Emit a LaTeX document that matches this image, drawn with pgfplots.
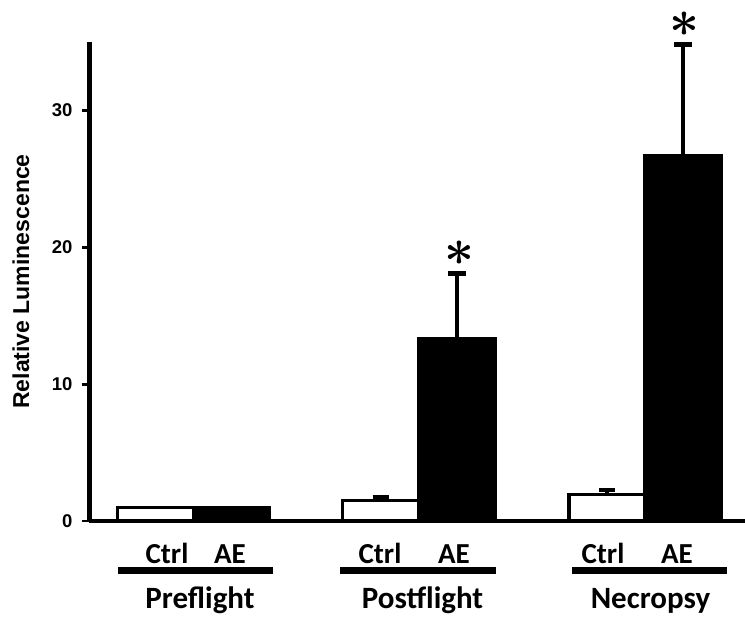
\RequirePackage{fix-cm}
\documentclass[border=0pt]{standalone}
\usepackage{pgfplots}
\pgfplotsset{compat=1.18}
\usepackage{fontspec}
\setmainfont{Liberation Sans}
\newfontfamily\calib{Carlito}
\DeclareRobustCommand\sigstar{{\fontsize{52}{52}\selectfont\boldmath$\ast$}}
\begin{document}
\begin{tikzpicture}
\useasboundingbox (-89.5pt,-98pt) rectangle (655.5pt,521pt);
\begin{axis}[
  scale only axis,
  width=655.5pt, height=479pt,
  xmin=89.5, xmax=745, ymin=0, ymax=35,
  enlargelimits=false,
  clip=false,
  axis x line*=bottom, axis y line*=left,
  axis line style={line width=4.5pt, -},
  ytick={0,10,20,30},
  ytick align=outside,
  major tick length=7.5pt,
  ytick style={line width=2.8pt, black},
  xtick={167,230,380,454,603,677},
  xticklabels={Ctrl,AE,Ctrl,AE,Ctrl,AE},
  xtick style={draw=none},
  /pgf/number format/assume math mode=true,
  yticklabel style={font=\bfseries\fontsize{18.5}{20}\selectfont, xshift=-6pt},
  xticklabel style={font=\calib\bfseries\fontsize{29}{30}\selectfont, anchor=base, yshift=-42pt},
  extra x ticks={200,422.5,650.5},
  extra x tick labels={Preflight,Postflight,Necropsy},
  extra x tick style={xticklabel style={font=\calib\bfseries\fontsize{31}{32}\selectfont, yshift=-45pt}},
  ylabel={Relative Luminescence},
  ylabel style={font=\bfseries\fontsize{23}{26}\selectfont, at={(axis description cs:-0.1045,0.5)}, anchor=center},
]
% Preflight (no visible error bars)
\addplot[ybar, bar shift=0pt, bar width=76, fill=white, draw=black, line width=3.5pt]
  coordinates {(155.5,1.0)};
\addplot[ybar, bar shift=0pt, bar width=76, fill=black, draw=black, line width=3.5pt]
  coordinates {(231.5,1.0)};
% Ctrl
\addplot[ybar, bar shift=0pt, bar width=76, fill=white, draw=black, line width=3.5pt,
  error bars/.cd, y dir=plus, y explicit,
  error bar style={line width=4.5pt, black},
  error mark options={rotate=90, line width=4.5pt, mark size=8pt, black}]
  coordinates {(380.5,1.5) +- (0,0.25) (607,1.95) +- (0,0.3)};
% AE
\addplot[ybar, bar shift=0pt, bar width=76, fill=black, draw=black, line width=3.5pt,
  error bars/.cd, y dir=plus, y explicit,
  error bar style={line width=4.5pt, black},
  error mark options={rotate=90, line width=4.5pt, mark size=9pt, black}]
  coordinates {(457,13.35) +- (0,4.75) (683,26.7) +- (0,8.1)};
% significance stars
\addplot[only marks, mark=none, nodes near coords={\sigstar}, every node near coord/.append style={anchor=center, inner sep=0pt}]
  coordinates {(459,19.6) (684,36.3)};
% group underlines
\draw[line width=7pt, yshift=-49.5pt] (axis cs:118,0) -- (axis cs:273,0);
\draw[line width=7pt, yshift=-49.5pt] (axis cs:340,0) -- (axis cs:496,0);
\draw[line width=7pt, yshift=-49.5pt] (axis cs:572,0) -- (axis cs:727,0);
\end{axis}
\end{tikzpicture}
\end{document}
